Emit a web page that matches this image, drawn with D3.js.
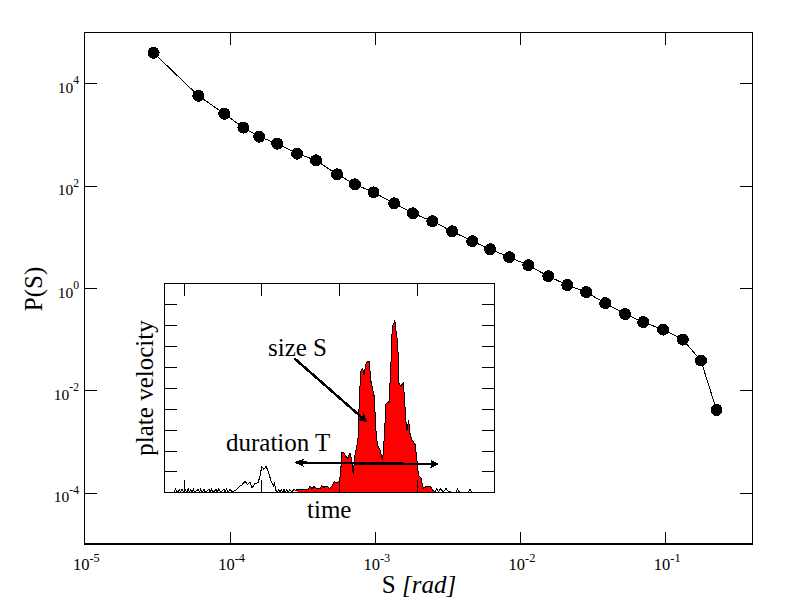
<!DOCTYPE html>
<html>
<head>
<meta charset="utf-8">
<script src="https://cdn.jsdelivr.net/npm/d3@7/dist/d3.min.js"></script>
<style>
html,body{margin:0;padding:0;background:#fff;}
svg{display:block;}
text{font-family:"Liberation Serif",serif;fill:#000;}
line,path,rect,circle{shape-rendering:crispEdges;}
</style>
</head>
<body>
<script>
// main plot: P(S) against S
var sizes=[3.0e-5,6.1e-5,9.2e-5,1.245e-4,1.6e-4,2.13e-4,2.92e-4,3.94e-4,5.5e-4,7.3e-4,9.8e-4,
	1.36e-3,1.83e-3,2.49e-3,3.41e-3,4.69e-3,6.23e-3,8.43e-3,1.14e-2,1.565e-2,2.115e-2,2.855e-2,
	3.86e-2,5.29e-2,7.05e-2,9.67e-2,0.132,0.176,0.2255];
var probs=[39700,5750,2560,1370,912,665,425,315,168,107,74.6,
	45.6,29.0,20.3,12.9,8.26,5.77,4.03,2.81,1.71,1.15,0.836,
	0.509,0.311,0.217,0.155,0.0989,0.0385,0.00417];
var xExponents=[-5,-4,-3,-2,-1];
var yExponents=[4,2,0,-2,-4];

// inset: one velocity trace
var times=[37.5,43.7,44.8,45.9,47.2,48,48.9,49.8,51,52,52.9,53.7,54.5,55.3,56.2,57,59.4,60.2,60.9,61.9,63,64,
	66.3,67.1,68,69,70.8,71.6,72.5,74,75.9,76.7,77.6,78.6,79.8,81,83,84.5,86.2,87.5,89.5,91,92.7,94,95.9,97.8,
	99.1,100.2,101.7,103,104.5,106,107,108,108.3,109.2,110.3,111.1,112,112.8,113.7,114.6,115.4,116.3,117.1,118.4,119.7,121,122.3,
	122.9,130.2,131.3,132.6,133.9,135.6,137.8,138.8,140.3,142,143.8,145.3,146.8,148.5,150,151.1,151.7,153.2,154.5,155.6,157.1,158.2,159.2,160.1,161.4,162.4,
	163.1,164.2,165.2,166.1,167.2,168.2,169.5,170.4,171.5,172.7,173.8,174.7,176.4,178.1,178.8,180.3,182.2,183.3,184.3,186,186.9,187.8,188.6,189.7,191.4,192.1,
	193.1,193.8,194.8,195.7,197,198.9,200,201.1,202.8,204.3,206,207.5,209,210.3,211.8,
	212.9,213.9,215.4,217.2,218.9,220.6,225.3,226.4,227.5,233.3,234.3,235.4,250];
var velocity=[0,0,.16,0,.13,0,.16,0,.14,0,.16,0,.14,0,.16,0,.14,0,.16,0,.14,0,
	.14,0,.16,0,.14,0,.16,0,.14,0,.16,0,.16,.02,.08,.16,.3,.35,.54,.38,.5,.2,.43,.45,
	.75,1.23,1.1,1.25,1,.6,.4,.3,.5,.1,0,.13,0,.13,0,.13,0,.13,0,.13,0,.16,.05,
	.14,.14,.3,.19,.27,.19,.19,.3,.24,.3,.19,.27,.51,.46,.51,.91,1.9,1.9,1.71,1.63,1.9,1.55,.88,1.71,2.19,2.67,
	4.58,5.86,5.94,5.62,6.1,6.26,6.26,5.38,4.98,4.58,2.98,2.27,2.03,1.55,2.19,4.26,4.34,5.86,7.93,8.22,7.61,7.21,5.22,5.09,5.22,4.58,
	3.38,2.98,3.46,2.82,2.51,2.31,1.71,.83,.67,.19,.27,.27,.3,.11,.03,
	.19,.03,.16,.02,.18,.02,0,.16,0,0,.16,0,0];
var fillStart=122.9, fillEnd=211.8;
var insetXTicks=[50,100,150,200];
var insetYTicks=[1,2,3,4,5,6,7,8,9];

var svg=d3.select("body").append("svg").attr("width",792).attr("height",612);
var defs=svg.append("defs");
defs.append("marker").attr("id","head").attr("viewBox","0 0 10 10")
	.attr("refX",9).attr("refY",5).attr("markerWidth",9).attr("markerHeight",9)
	.attr("markerUnits","userSpaceOnUse").attr("orient","auto-start-reverse")
	.append("path").attr("d","M0,0L10,5L0,10L2,5Z").attr("fill","#000");

var x=d3.scaleLog().domain([1e-5,0.4]).range([84.3,752.7]);
var y=d3.scaleLog().domain([1e-5,1e5]).range([544,32.3]);

var main=svg.append("g");
main.append("rect").attr("x",84.3).attr("y",32.3).attr("width",668.4).attr("height",511.7)
	.attr("fill","#fff").attr("stroke","#000").attr("stroke-width",1.5);

function ticks(g,axis,dx,dy){
	var t=g.append("g").attr("transform","translate("+dx+","+dy+")").call(axis);
	t.select(".domain").remove();
	t.selectAll("line").attr("stroke","#000").attr("stroke-width",1);
	t.selectAll("text").remove();
}
var xVals=xExponents.map(function(e){return Math.pow(10,e);});
var yVals=yExponents.map(function(e){return Math.pow(10,e);});
ticks(main,d3.axisBottom(x).tickValues(xVals.slice(1)).tickSize(-12.3).tickSizeOuter(0),0,544);
ticks(main,d3.axisTop(x).tickValues(xVals.slice(1)).tickSize(-12.3).tickSizeOuter(0),0,32.3);
ticks(main,d3.axisLeft(y).tickValues(yVals).tickSize(-12.3).tickSizeOuter(0),84.3,0);
ticks(main,d3.axisRight(y).tickValues(yVals).tickSize(-12.3).tickSizeOuter(0),752.7,0);

var pts=d3.range(sizes.length);
main.append("path").attr("fill","none").attr("stroke","#000").attr("stroke-width",1)
	.attr("d",d3.line().x(function(i){return x(sizes[i]);}).y(function(i){return y(probs[i]);})(pts));
main.selectAll("circle").data(pts).enter().append("circle")
	.attr("cx",function(i){return x(sizes[i]);})
	.attr("cy",function(i){return y(probs[i]);})
	.attr("r",6).attr("fill","#000");

// decade labels with the exponent raised
function powerLabel(px,py,e,anchor,big){
	var t=main.append("text").attr("x",px).attr("y",py).attr("text-anchor",anchor).attr("font-size",big);
	t.append("tspan").text("10");
	t.append("tspan").attr("dy",-8.5).attr("font-size",big*0.75).text(e);
}
xExponents.forEach(function(e){powerLabel(x(Math.pow(10,e))+2,570,e,"middle",16.5);});
yExponents.forEach(function(e){powerLabel(79,y(Math.pow(10,e))+9.5,e,"end",15.5);});

var xLabel=main.append("text").attr("x",419).attr("y",593).attr("text-anchor","middle").attr("font-size",25);
xLabel.append("tspan").text("S ");
xLabel.append("tspan").attr("font-style","italic").text("[rad]");
main.append("text").attr("transform","translate(42,289) rotate(-90)").attr("text-anchor","middle").attr("font-size",25).text("P(S)");

// inset
var ix=d3.scaleLinear().domain([37.5,250]).range([164.3,494.3]);
var iy=d3.scaleLinear().domain([0,10]).range([492.3,283.5]);
var inset=svg.append("g");
inset.append("rect").attr("x",164.3).attr("y",283.5).attr("width",330).attr("height",208.8)
	.attr("fill","#fff").attr("stroke","#000").attr("stroke-width",1.5);

var idx=d3.range(times.length);
var filled=idx.filter(function(i){return times[i]>=fillStart&&times[i]<=fillEnd;});
inset.append("path").attr("fill","#f00")
	.attr("d",d3.area().x(function(i){return ix(times[i]);}).y0(iy(0)).y1(function(i){return iy(velocity[i]);})(filled));
inset.append("path").attr("fill","none").attr("stroke","#000").attr("stroke-width",1)
	.attr("d",d3.line().x(function(i){return ix(times[i]);}).y(function(i){return iy(velocity[i]);})(idx));

ticks(inset,d3.axisBottom(ix).tickValues(insetXTicks).tickSize(-12.5).tickSizeOuter(0),0,492.3);
ticks(inset,d3.axisTop(ix).tickValues(insetXTicks).tickSize(-12.5).tickSizeOuter(0),0,283.5);
ticks(inset,d3.axisLeft(iy).tickValues(insetYTicks).tickSize(-12.5).tickSizeOuter(0),164.3,0);
ticks(inset,d3.axisRight(iy).tickValues(insetYTicks).tickSize(-12.5).tickSizeOuter(0),494.3,0);

inset.append("line").attr("x1",ix(121.2)).attr("y1",iy(6.42)).attr("x2",ix(167.8)).attr("y2",iy(3.38))
	.attr("stroke","#000").attr("stroke-width",2.5).attr("marker-end","url(#head)");
inset.append("line").attr("x1",ix(122.3)).attr("y1",iy(1.42)).attr("x2",ix(213.9)).attr("y2",iy(1.35))
	.attr("stroke","#000").attr("stroke-width",2.5).attr("marker-start","url(#head)").attr("marker-end","url(#head)");

inset.append("text").attr("x",268).attr("y",356).attr("font-size",25).text("size S");
inset.append("text").attr("x",226).attr("y",451).attr("font-size",25).text("duration T");
inset.append("text").attr("x",307).attr("y",518).attr("font-size",25).text("time");
inset.append("text").attr("transform","translate(153,388) rotate(-90)").attr("text-anchor","middle").attr("font-size",25).text("plate velocity");
</script>
</body>
</html>
